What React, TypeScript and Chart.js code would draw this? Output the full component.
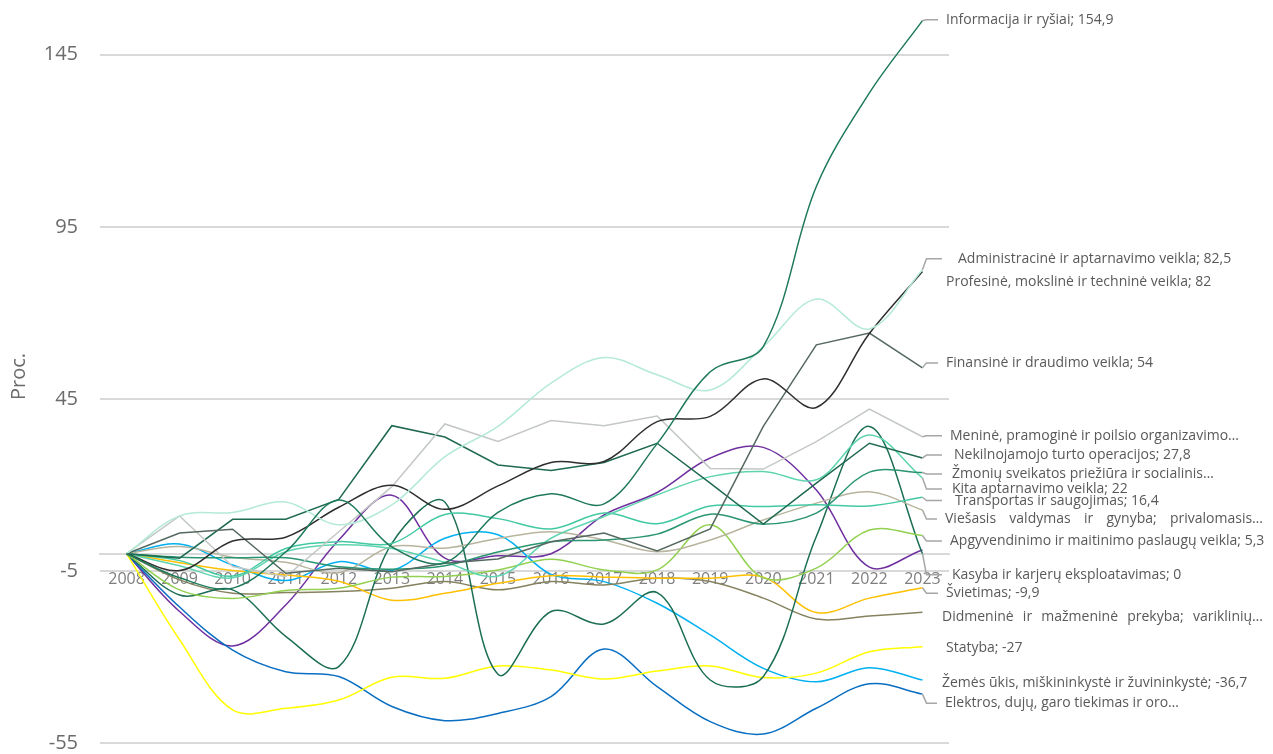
import React, { useEffect, useRef } from "react";
import { Chart, registerables } from "chart.js";

Chart.register(...registerables);

// ---------- DATA ----------
const years = ["2008", "2009", "2010", "2011", "2012", "2013", "2014", "2015", "2016", "2017", "2018", "2019", "2020", "2021", "2022", "2023"];
const yTickValues = [-55, -5, 45, 95, 145];

const informacija = [0, -7, -10, 0.5, 15.6, 2, -2.6, 12, 17.4, 14.5, 32, 52.9, 60.2, 106.7, 133.9, 154.9];
const administracine = [0, 11, 12, 15, 8.4, 14.2, 28.2, 37, 49.6, 57, 52, 47.6, 60.2, 74, 65.3, 82.5];
const profesine = [0, -4.9, 3.7, 4.8, 13.5, 19.9, 12.9, 19.7, 26.5, 26.8, 38.4, 39.9, 50.8, 42.5, 64, 82];
const finansine = [0, 6, 7.1, -5.7, -4.2, -5.2, -2.8, -1.5, 3.5, 6, 0.8, 7.2, 37, 60.7, 64.1, 54];
const menine = [0, 11, -3.7, -6.7, 6.4, 19.5, 37.7, 32.6, 38.7, 37.2, 40, 24.8, 24.6, 32.6, 42, 34];
const nekilnojamojo = [0, -1.3, 10, 10, 15.8, 37.2, 33.9, 25.8, 24.2, 26.5, 32.1, 20.5, 8.6, 20.5, 32.1, 27.8];
const zmoniu = [0, -1, -1.2, -1.2, -3.8, -4.5, -3.5, 0.5, 3.5, 4, 5.7, 11.5, 8.6, 11.8, 23.7, 23.6];
const kita = [0, -3.5, -7, 0.6, 2.6, 1.5, -2.5, -6.5, 4.5, 10.8, 17.1, 22.4, 23.9, 21.5, 34.5, 22];
const transportas = [0, -2, -6.5, 1.5, 3.5, 3, 11.4, 10.2, 7.2, 11.8, 8.7, 13.9, 13.7, 14.2, 13.9, 16.4];
const viesasis = [0, 2.1, -1, -2.5, -5.5, 2.1, 1.6, 4.4, 6.4, 4, 0.6, 4, 9.8, 14.7, 18, 12.7];
const apgyvendinimo = [0, -10.5, -13, -10.7, -10, -6.8, -6.6, -4.7, -1.6, -4.7, -4.7, 8.4, -7, -4.2, 6.9, 5.3];
const kasyba = [0, -12, -10.5, -24, -32.8, 3, 15, -35, -16.8, -20.4, -11.3, -36.7, -35.7, 5, 37, 0];
const svietimas = [0, -2.6, -4.9, -6.2, -8, -13.5, -11.5, -8.6, -6.4, -6.8, -7.1, -7.1, -6.8, -17.1, -12.9, -9.9];
const didmenine = [0, -7.6, -11.5, -11.3, -11, -10, -8.1, -10.5, -8.1, -9.1, -7.1, -8.1, -12.9, -19, -18.1, -17];
const statyba = [0, -25, -45.4, -44.9, -42.5, -35.9, -36.2, -32.6, -33.8, -36.4, -34.1, -32.6, -36, -34.7, -28.5, -27];
const zemes = [0, 2.8, -3.3, -7.8, -2.3, -4.9, 4.5, 5.5, -6, -8.1, -14.4, -23.6, -33.3, -37.2, -33.1, -36.7];
const elektros = [0, -15.5, -28, -34.3, -35.7, -44.4, -48.5, -46.4, -41.5, -27.7, -38.6, -48.8, -52.4, -44.9, -37.8, -40.8];
const kitaGamyba = [0, -16.8, -26.8, -14.9, 4, 17, -1.3, -0.6, 0, 11.3, 17.8, 27.8, 30.9, 18.5, -3.9, 1.1];

const seriesNames = [
  "Informacija ir ryšiai",
  "Administracinė ir aptarnavimo veikla",
  "Profesinė, mokslinė ir techninė veikla",
  "Finansinė ir draudimo veikla",
  "Meninė, pramoginė ir poilsio organizavimo veikla",
  "Nekilnojamojo turto operacijos",
  "Žmonių sveikatos priežiūra ir socialinis darbas",
  "Kita aptarnavimo veikla",
  "Transportas ir saugojimas",
  "Viešasis valdymas ir gynyba; privalomasis socialinis draudimas",
  "Apgyvendinimo ir maitinimo paslaugų veikla",
  "Kasyba ir karjerų eksploatavimas",
  "Švietimas",
  "Didmeninė ir mažmeninė prekyba; variklinių transporto priemonių ir motociklų remontas",
  "Statyba",
  "Žemės ūkis, miškininkystė ir žuvininkystė",
  "Elektros, dujų, garo tiekimas ir oro kondicionavimas",
  "Vandens tiekimas, nuotekų valymas, atliekų tvarkymas ir regeneravimas",
];
const seriesValues = [
  informacija, administracine, profesine, finansine, menine, nekilnojamojo, zmoniu, kita, transportas,
  viesasis, apgyvendinimo, kasyba, svietimas, didmenine, statyba, zemes, elektros, kitaGamyba,
];
const endLabelTexts = [
  "Informacija ir ryšiai; 154,9",
  "Administracinė ir aptarnavimo veikla; 82,5",
  "Profesinė, mokslinė ir techninė veikla; 82",
  "Finansinė ir draudimo veikla; 54",
  "Meninė, pramoginė ir poilsio organizavimo…",
  "Nekilnojamojo turto operacijos; 27,8",
  "Žmonių sveikatos priežiūra ir socialinis…",
  "Kita aptarnavimo veikla; 22",
  "Transportas ir saugojimas; 16,4",
  "Viešasis valdymas ir gynyba; privalomasis…",
  "Apgyvendinimo ir maitinimo paslaugų veikla; 5,3",
  "Kasyba ir karjerų eksploatavimas; 0",
  "Švietimas; -9,9",
  "Didmeninė ir mažmeninė prekyba; variklinių…",
  "Statyba; -27",
  "Žemės ūkis, miškininkystė ir žuvininkystė; -36,7",
  "Elektros, dujų, garo tiekimas ir oro…",
  "",
];

// ---------- STYLES ----------
const seriesColors = [
  "#1f7a5c", "#b4ead7", "#2f2f2f", "#56695f", "#c3c8c4", "#1f6a50", "#2a9572", "#5fd4b0", "#42c9a2",
  "#b7b59e", "#92d050", "#1b6e55", "#ffc000", "#85825f", "#ffff00", "#00b0f0", "#0a6fc2", "#7030a0",
];
const seriesSmooth = [
  true, true, true, false, false, false, true, true, true,
  true, true, true, true, true, true, true, true, true,
];
// label layout: x of text, vertical nudge from end point, leader line, justified
const labelLayout = [
  { x: 946, dy: -1, leader: true, justify: false },
  { x: 958, dy: -11, leader: true, justify: false },
  { x: 946, dy: 10.5, leader: false, justify: false },
  { x: 946, dy: -5, leader: true, justify: false },
  { x: 950, dy: -1, leader: true, justify: false },
  { x: 954, dy: -3, leader: true, justify: false },
  { x: 952, dy: 1.5, leader: true, justify: false },
  { x: 952, dy: 11, leader: true, justify: false },
  { x: 955, dy: 3.3, leader: true, justify: false },
  { x: 945, dy: 9, leader: true, justify: true },
  { x: 950, dy: 5.4, leader: true, justify: false },
  { x: 952, dy: 21, leader: true, justify: false },
  { x: 946, dy: 5.4, leader: true, justify: false },
  { x: 942, dy: 5, leader: false, justify: true },
  { x: 946, dy: 1.6, leader: false, justify: false },
  { x: 942, dy: 2.7, leader: false, justify: false },
  { x: 945, dy: 9, leader: true, justify: false },
  { x: 0, dy: 0, leader: false, justify: false },
];
const JUSTIFY_RIGHT = 1263;
const FONT = "'Open Sans', 'Noto Sans', sans-serif";

const endLabelsPlugin = {
  id: "endLabels",
  afterDatasetsDraw(chart: any) {
    const ctx = chart.ctx;
    ctx.save();
    ctx.font = `14px ${FONT}`;
    ctx.textBaseline = "middle";
    endLabelTexts.forEach((text, i) => {
      if (!text) return;
      const cfg = labelLayout[i];
      const meta = chart.getDatasetMeta(i);
      const pt = meta.data[meta.data.length - 1];
      if (!pt) return;
      const ly = pt.y + cfg.dy;
      if (cfg.leader) {
        ctx.strokeStyle = "#a6a6a6";
        ctx.lineWidth = 1.5;
        ctx.beginPath();
        ctx.moveTo(pt.x, pt.y);
        ctx.lineTo(pt.x + 4, ly);
        ctx.lineTo(Math.min(cfg.x - 8, 942), ly);
        ctx.stroke();
      }
      ctx.fillStyle = "#595959";
      if (cfg.justify) {
        const words = text.split(" ");
        const widths = words.map((w) => ctx.measureText(w).width);
        const total = widths.reduce((a, b) => a + b, 0);
        const gap = (JUSTIFY_RIGHT - cfg.x - total) / (words.length - 1);
        let x = cfg.x;
        words.forEach((w, k) => {
          ctx.fillText(w, x, ly);
          x += widths[k] + gap;
        });
      } else {
        ctx.textAlign = "left";
        ctx.fillText(text, cfg.x, ly);
      }
    });
    ctx.restore();
  },
};

export default function App() {
  const canvasRef = useRef<HTMLCanvasElement | null>(null);

  useEffect(() => {
    document.body.style.margin = "0";
    document.body.style.overflow = "hidden";
    const canvas = canvasRef.current;
    if (!canvas) return;
    Chart.defaults.font.family = FONT;

    const datasets = seriesValues.map((vals, i) => ({
      label: seriesNames[i],
      data: vals,
      borderColor: seriesColors[i],
      backgroundColor: seriesColors[i],
      borderWidth: 1.5,
      pointRadius: 0,
      pointHoverRadius: 0,
      tension: seriesSmooth[i] ? 0.35 : 0,
      fill: false,
    }));

    const chart = new Chart(canvas, {
      type: "line",
      data: { labels: years, datasets },
      plugins: [endLabelsPlugin],
      options: {
        animation: false,
        responsive: false,
        layout: { padding: { left: 0, right: 324, top: 10, bottom: 11 } },
        plugins: {
          legend: { display: false },
          tooltip: { enabled: false },
        },
        scales: {
          x: {
            type: "category",
            offset: true,
            position: { y: 0 } as any,
            grid: { display: false, drawTicks: false },
            border: { display: true, color: "#d9d9d9", width: 2 },
            ticks: {
              color: "#7f7f7f",
              font: { size: 16, family: FONT },
              padding: 16,
              maxRotation: 0,
              autoSkip: false,
            },
            afterFit: (s: any) => {
              s.height = 0;
              s.paddingLeft = 0;
              s.paddingRight = 0;
            },
          },
          y: {
            type: "linear",
            min: -55,
            max: 158,
            afterBuildTicks: (s: any) => {
              s.ticks = yTickValues.map((v) => ({ value: v }));
            },
            grid: { color: "#d9d9d9", lineWidth: 2, drawTicks: false },
            border: { display: false },
            ticks: {
              color: "#6b6b6b",
              font: { size: 20, family: FONT },
              padding: 22,
            },
            title: {
              display: true,
              text: "Proc.",
              color: "#6b6b6b",
              font: { size: 20, family: FONT },
              padding: { top: 7, bottom: 0 },
            },
            afterFit: (s: any) => {
              s.width = 100;
              s.paddingTop = 0;
              s.paddingBottom = 0;
            },
          },
        },
      } as any,
    });

    return () => chart.destroy();
  }, []);

  return (
    <div style={{ width: 1273, height: 754, position: "relative" }}>
      <canvas ref={canvasRef} width={1273} height={754} style={{ width: 1273, height: 754, display: "block" }} />
    </div>
  );
}
